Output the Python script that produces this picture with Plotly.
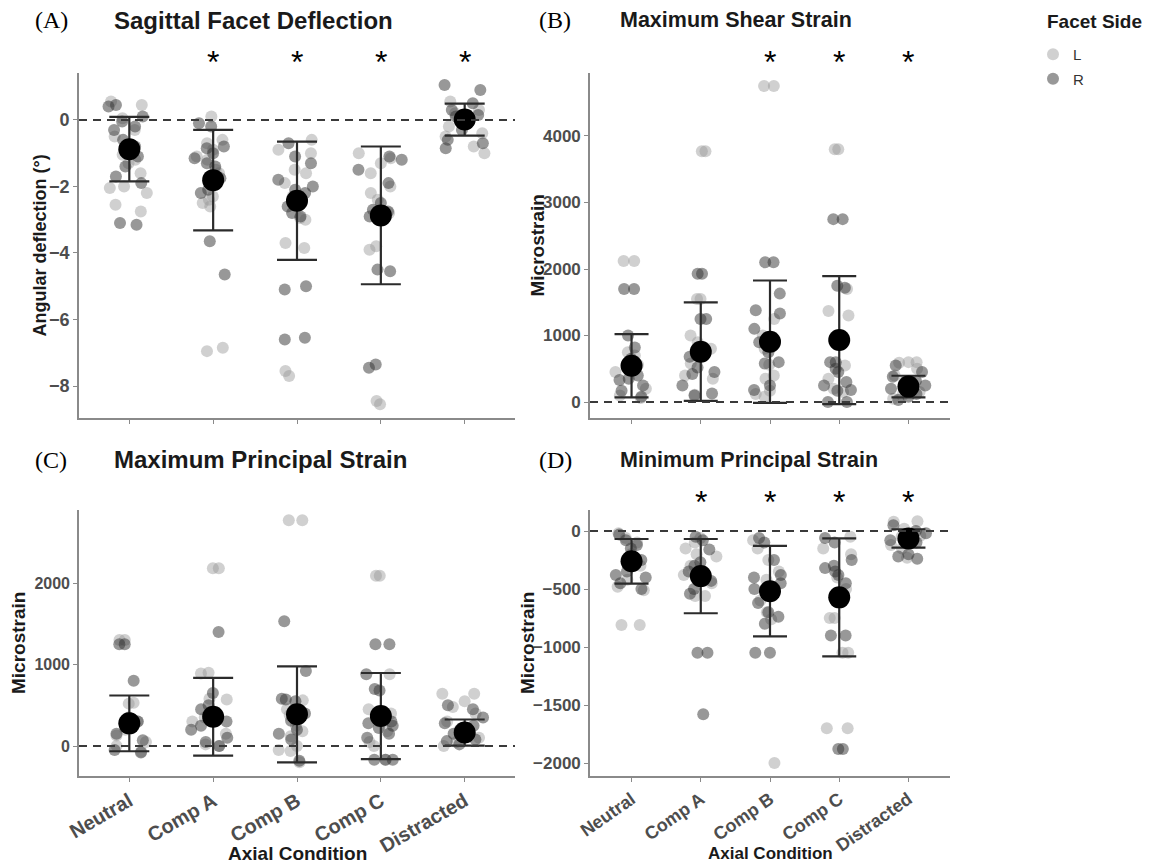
import plotly.graph_objects as go

categories = ["Neutral", "Comp A", "Comp B", "Comp C", "Distracted"]

# ---------------- Panel A: Sagittal Facet Deflection (degrees) ----------------
A_L = [
    [0.55, 0.45, 0.05, -0.5, -1.2, -1.3, -1.6, -2.0, -2.05, -2.2, -2.55, -2.75, -0.3, -1.05],
    [0.1, -0.6, -0.9, -1.1, -1.2, -1.5, -1.6, -2.3, -2.4, -2.5, -2.6, -6.85, -6.95, -0.7],
    [-0.6, -0.9, -1.0, -1.5, -1.6, -2.3, -2.95, -3.0, -3.7, -3.85, -7.55, -7.7, -1.9],
    [-1.0, -1.3, -1.6, -2.0, -2.2, -2.4, -2.8, -3.8, -3.9, -8.45, -8.55, -1.15],
    [0.55, 0.2, 0.0, -0.2, -0.4, -0.5, -0.8, -1.0, 0.3, -0.1],
]
A_R = [
    [0.45, 0.4, 0.1, -0.05, -0.2, -0.3, -0.6, -0.8, -1.1, -1.4, -1.7, -1.9, -3.1, -3.15, -0.9],
    [-0.1, -0.2, -0.8, -0.85, -1.0, -1.3, -1.4, -1.75, -1.9, -2.1, -3.65, -4.65, -2.2, -1.15],
    [-0.7, -1.1, -1.3, -1.8, -2.0, -2.1, -2.2, -2.6, -2.8, -2.9, -5.0, -5.1, -6.55, -6.6],
    [-1.1, -1.2, -1.5, -1.9, -2.5, -2.7, -2.75, -2.9, -4.5, -4.55, -7.35, -7.45],
    [1.05, 0.9, 0.5, 0.3, 0.1, -0.1, -0.3, -0.6, -0.7, -0.85, 0.15],
]
A_mean = [-0.88, -1.81, -2.43, -2.87, 0.01]
A_sd = [0.97, 1.51, 1.78, 2.07, 0.48]
A_sig = [False, True, True, True, True]

# ---------------- Panel B: Maximum Shear Strain ----------------
B_L = [
    [2120, 2120, 750, 700, 560, 500, 450, 200, 100, 60, 620],
    [3770, 3770, 1550, 1550, 1000, 900, 580, 400, 350, 110, 800],
    [4750, 4750, 1250, 1000, 560, 400, 350, 170, 120, 80, 800],
    [3800, 3800, 1370, 1300, 950, 550, 350, 200, 150, 1700],
    [600, 600, 590, 500, 300, 150, 100, 50, 400],
]
B_R = [
    [1700, 1700, 1000, 820, 650, 350, 330, 250, 170, 80, 400],
    [1930, 1930, 1250, 1250, 700, 680, 520, 420, 250, 130, 100, 450],
    [2100, 2100, 1630, 1380, 1330, 1100, 750, 600, 580, 250, 180, 900],
    [2750, 2750, 1750, 1720, 600, 600, 500, 450, 300, 250, 180, 170, 0, 0],
    [550, 450, 380, 250, 200, 120, 80, 30, 320],
]
B_mean = [546, 757, 907, 932, 232]
B_sd = [476, 740, 920, 962, 163]
B_sig = [False, False, True, True, True]

# ---------------- Panel C: Maximum Principal Strain ----------------
C_L = [
    [1300, 1300, 530, 520, 200, 130, 50, 0, -70, 300],
    [2180, 2180, 900, 890, 580, 570, 350, 300, 150, 20, 0],
    [2770, 2770, 560, 450, 380, 250, 120, 0, -50, -60, -200, 180],
    [2090, 2090, 880, 450, 400, 180, 50, 0, -170, 300],
    [640, 640, 550, 400, 300, 200, 100, 50, 0, 480],
]
C_R = [
    [1250, 1250, 800, 350, 300, 230, 70, -50, -80, 150],
    [1400, 500, 450, 380, 250, 200, 100, 50, 0, 650, 300],
    [1530, 920, 580, 570, 550, 310, 200, 150, 80, -180, 400],
    [1250, 1250, 880, 700, 680, 300, 280, 250, 220, 150, 100, -170, -170, -170],
    [500, 450, 350, 250, 180, 150, 80, 20, 60, 280],
]
C_mean = [278, 360, 389, 368, 165]
C_sd = [342, 477, 589, 528, 160]
C_sig = [False, False, False, False, False]

# ---------------- Panel D: Minimum Principal Strain ----------------
D_L = [
    [-20, -60, -200, -300, -420, -480, -510, -810, -810, -100],
    [-60, -150, -200, -220, -380, -450, -560, -560, -100, -300],
    [-80, -150, -350, -420, -550, -600, -760, -2000, -250, -700],
    [-50, -150, -200, -400, -500, -750, -750, -1050, -1050, -1700, -1700],
    [80, 85, 20, -50, -120, -150, -230, -40],
]
D_R = [
    [-30, -80, -120, -150, -250, -380, -400, -450, -500, -350],
    [-50, -80, -160, -270, -300, -350, -400, -430, -500, -540, -1050, -1050, -1580],
    [-60, -100, -250, -380, -400, -450, -500, -620, -700, -740, -800, -1050, -1050],
    [-100, -250, -300, -320, -350, -380, -450, -900, -900, -1880, -1880, -60],
    [50, -20, -80, -100, -200, -220, -240, 0],
]
D_mean = [-261, -389, -519, -572, -64]
D_sd = [192, 320, 390, 509, 79]
D_sig = [False, True, True, True, True]

panel_letters = ["(A)", "(B)", "(C)", "(D)"]
panel_titles = ["Sagittal Facet Deflection", "Maximum Shear Strain",
                "Maximum Principal Strain", "Minimum Principal Strain"]
y_titles = ["Angular deflection (°)", "Microstrain", "Microstrain", "Microstrain"]

# ---------------- layout helpers (pixel geometry) ----------------
W, H = 1150, 866
def px_x(p):
    return p / W
def px_y(p):
    return 1 - p / H

L_COLOR = "rgba(150,150,150,0.45)"
R_COLOR = "rgba(50,50,50,0.5)"
AX_COLOR = "#8a8a8a"

panels = [
    dict(L=A_L, R=A_R, mean=A_mean, sd=A_sd, sig=A_sig, xd=(79, 515), yd=(73, 418),
         yr=[-8.96, 1.41], tv=[-8, -6, -4, -2, 0], cap=20, letter_xy=(33, 20), title_x=112,
         ytitle_x=40, show_xlabels=False, star_shift=11, xfs=20, xang=-30,
         yfs=18, tfs=24, ytfs=18, atfs=19),
    dict(L=B_L, R=B_R, mean=B_mean, sd=B_sd, sig=B_sig, xd=(590, 950), yd=(73, 418),
         yr=[-240, 4947], tv=[0, 1000, 2000, 3000, 4000], cap=17, letter_xy=(537, 20), title_x=618,
         ytitle_x=537, show_xlabels=False, star_shift=11, xfs=18, xang=-35,
         yfs=17, tfs=21.5, ytfs=19, atfs=17),
    dict(L=C_L, R=C_R, mean=C_mean, sd=C_sd, sig=C_sig, xd=(79, 515), yd=(510, 776),
         yr=[-368, 2896], tv=[0, 1000, 2000], cap=20, letter_xy=(33, 460), title_x=112,
         ytitle_x=18, show_xlabels=True, star_shift=8, xfs=20, xang=-30,
         yfs=16, tfs=24, ytfs=19, atfs=19),
    dict(L=D_L, R=D_R, mean=D_mean, sd=D_sd, sig=D_sig, xd=(590, 950), yd=(510, 776),
         yr=[-2112, 181], tv=[-2000, -1500, -1000, -500, 0], cap=17, letter_xy=(537, 460), title_x=618,
         ytitle_x=527, show_xlabels=True, star_shift=8, xfs=18, xang=-35,
         yfs=17, tfs=21.5, ytfs=19, atfs=17),
]

fig = go.Figure()
annotations = []
shapes = []

for i, p in enumerate(panels):
    n = "" if i == 0 else str(i + 1)
    xa, ya = "x" + n, "y" + n
    # jittered raw points, one trace per facet side (plotly's own jitter)
    for side, groups, color in (("L", p["L"], L_COLOR), ("R", p["R"], R_COLOR)):
        xs, ys = [], []
        for cat, vals in zip(categories, groups):
            xs += [cat] * len(vals)
            ys += vals
        fig.add_trace(go.Box(
            x=xs, y=ys, xaxis=xa, yaxis=ya, name=side,
            boxpoints="all", jitter=1, pointpos=0, width=0.55,
            fillcolor="rgba(0,0,0,0)", line=dict(width=0, color="rgba(0,0,0,0)"),
            whiskerwidth=0, marker=dict(size=12, color=color, line=dict(width=0)),
            hoverinfo="skip", showlegend=False,
        ))
    # mean +/- SD
    fig.add_trace(go.Scatter(
        x=categories, y=p["mean"], xaxis=xa, yaxis=ya, mode="markers",
        marker=dict(size=22, color="black"),
        error_y=dict(type="data", array=p["sd"], visible=True, color="#2b2b2b",
                     thickness=2.2, width=p["cap"]),
        showlegend=False, hoverinfo="skip",
    ))
    xdom = [px_x(p["xd"][0]), px_x(p["xd"][1])]
    ydom = [px_y(p["yd"][1]), px_y(p["yd"][0])]
    fig.update_layout(**{
        ("xaxis" + n): dict(domain=xdom, anchor=ya, type="category", automargin=False,
                            categoryorder="array", categoryarray=categories,
                            range=[-0.6, 4.6], showline=True, linecolor=AX_COLOR, linewidth=1.6,
                            ticks="outside", ticklen=4, tickcolor=AX_COLOR, tickwidth=1.2,
                            showgrid=False, zeroline=False, tickangle=p["xang"],
                            showticklabels=p["show_xlabels"],
                            tickfont=dict(family="Liberation Sans", size=p["xfs"],
                                          color="#4d4d4d", weight="bold")),
        ("yaxis" + n): dict(domain=ydom, anchor=xa, range=p["yr"], tickvals=p["tv"],
                            automargin=False,
                            showline=True, linecolor=AX_COLOR, linewidth=1.6,
                            ticks="outside", ticklen=4, tickcolor=AX_COLOR, tickwidth=1.2,
                            showgrid=False, zeroline=False,
                            tickfont=dict(family="Liberation Sans", size=p["yfs"],
                                          color="#4d4d4d", weight="bold")),
    })
    # dashed zero line
    shapes.append(dict(type="line", xref=xa + " domain", yref=ya, x0=0, x1=1, y0=0, y1=0,
                       line=dict(color="#3a3a3a", width=2, dash="8px,6px"), layer="above"))
    # panel letter and title
    annotations.append(dict(text=panel_letters[i], xref="paper", yref="paper",
                            x=px_x(p["letter_xy"][0]), y=px_y(p["letter_xy"][1]),
                            xanchor="left", yanchor="middle", showarrow=False,
                            font=dict(family="Liberation Serif", size=24, color="black")))
    annotations.append(dict(text="<b>" + panel_titles[i] + "</b>", xref="paper", yref="paper",
                            x=px_x(p["title_x"]), y=px_y(p["letter_xy"][1]),
                            xanchor="left", yanchor="middle", showarrow=False,
                            font=dict(family="Liberation Sans", size=p["tfs"], color="#1a1a1a")))
    # y axis title
    annotations.append(dict(text="<b>" + y_titles[i] + "</b>", xref="paper", yref="paper",
                            x=px_x(p["ytitle_x"]), y=(ydom[0] + ydom[1]) / 2,
                            xanchor="center", yanchor="middle", textangle=-90, showarrow=False,
                            font=dict(family="Liberation Sans", size=p["ytfs"], color="#1a1a1a")))
    # significance asterisks
    for cat, s in zip(categories, p["sig"]):
        if s:
            annotations.append(dict(text="*", xref=xa, yref=ya + " domain", x=cat, y=1.0,
                                    yshift=p["star_shift"], xanchor="center", yanchor="middle",
                                    showarrow=False,
                                    font=dict(family="Liberation Sans", size=32, color="black")))
    # x axis title on bottom row
    if p["show_xlabels"]:
        annotations.append(dict(text="<b>Axial Condition</b>", xref="paper", yref="paper",
                                x=(xdom[0] + xdom[1]) / 2, y=px_y(853),
                                xanchor="center", yanchor="middle", showarrow=False,
                                font=dict(family="Liberation Sans", size=p["atfs"], color="#1a1a1a")))

# legend title
annotations.append(dict(text="<b>Facet Side</b>", xref="paper", yref="paper",
                        x=px_x(1045), y=px_y(22), xanchor="left", yanchor="middle",
                        showarrow=False,
                        font=dict(family="Liberation Sans", size=19, color="#1a1a1a")))

# legend entries (circle symbols)
for side, color in (("L", L_COLOR), ("R", R_COLOR)):
    fig.add_trace(go.Scatter(x=[None], y=[None], mode="markers", name=side, legendgroup=side,
                             marker=dict(size=12, color=color), showlegend=True))

fig.update_layout(
    width=W, height=H, autosize=False,
    margin=dict(l=0, r=0, t=0, b=0),
    paper_bgcolor="white", plot_bgcolor="white",
    boxmode="overlay",
    annotations=annotations, shapes=shapes,
    legend=dict(x=px_x(1033), y=px_y(38), xanchor="left", yanchor="top",
                font=dict(family="Liberation Sans", size=15, color="#333333"),
                tracegroupgap=2, bgcolor="rgba(0,0,0,0)"),
    font=dict(family="Liberation Sans"),
)

fig.write_html("out.html", config={"displayModeBar": False},
               post_script="document.body.style.margin='0px';")
